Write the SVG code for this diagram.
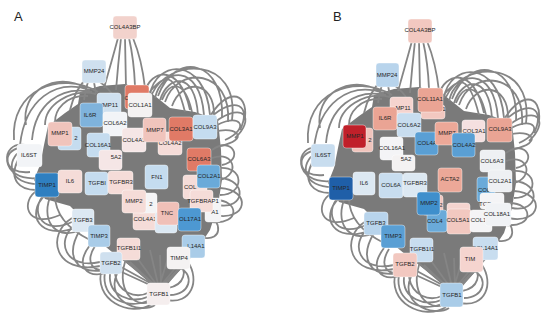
<svg xmlns="http://www.w3.org/2000/svg" xmlns:xlink="http://www.w3.org/1999/xlink" width="550" height="319" viewBox="0 0 550 319">
<style>
.e{fill:none;stroke:#858585;stroke-width:1.8}
.mass{fill:#7a7a7a}
.n rect{stroke:#ffffff;stroke-opacity:0.5;stroke-width:0.8}
text{font-family:"Liberation Sans",Arial,sans-serif;font-size:6px;fill:#262626;text-anchor:middle}
text.s{text-anchor:start}
text.lbl{font-size:13px;fill:#222;text-anchor:start}
</style>
<rect width="550" height="319" fill="#ffffff"/>
<defs>
<g id="edgesA">
<path class="mass" d="M80,92 L100,86 L125,84 L150,92 L170,108 L195,112 L218,120 L221,150 L222,180 L218,205 L210,230 L200,245 L185,265 L168,283 L150,283 L130,266 L112,252 L100,242 L88,224 L70,206 L45,199 L34,180 L40,165 L44,145 L48,126 L65,113 L78,104 Z"/>
<path class="e" d="M118,38 Q112,60 104,88 M121,38 Q118,65 116,90 M125,38 L126,88 M129,38 Q134,60 135,86 M133,38 Q142,60 145,88"/>
<path class="e" d="M88,82 Q86,88 84,100 M94,82 L96,94 M100,82 Q108,88 112,94 M85,80 Q75,90 70,110"/>
<path class="e" d="M150,95 C155,60 205,55 210,115 M155,98 C162,68 200,62 204,115 M160,100 C168,75 195,70 198,115 M158,96 C175,50 225,60 222,118 M165,102 C178,64 232,70 228,122 M172,106 C182,78 215,80 214,116 M145,92 C150,70 180,62 190,110 M148,94 C165,72 175,72 185,112 M152,94 C168,58 240,55 232,120 M162,100 C170,80 185,80 192,112"/>
<path class="e" d="M210,118 C235,95 252,105 240,130 M215,122 C245,100 255,120 235,138 M212,128 C240,110 252,128 225,140 M208,120 C225,88 248,90 245,118 M214,132 C238,125 250,140 220,146"/>
<path class="e" d="M90,90 C55,78 25,100 20,145 M92,92 C60,85 35,105 32,140 M96,94 C70,88 45,105 45,125 M88,96 C65,95 55,110 55,122 M98,92 C60,70 10,90 14,140 M86,88 C55,70 20,92 26,125"/>
<path class="e" d="M20,148 C2,150 2,175 30,172 M25,145 C0,140 -2,182 38,178 M18,160 C8,180 20,190 36,190 M22,150 C5,160 8,185 40,184"/>
<path class="e" d="M38,190 C20,200 25,230 60,215 M42,197 C30,215 45,235 72,222 M50,197 C40,225 60,240 80,230 M55,195 C55,215 70,230 90,240 M45,195 C25,215 40,240 75,228"/>
<path class="e" d="M75,225 C55,240 65,270 100,262 M80,230 C65,255 75,275 105,270 M90,245 C75,265 85,280 110,272 M72,218 C45,235 55,275 100,266 M95,246 C85,262 92,275 112,268"/>
<path class="e" d="M105,272 C100,300 130,310 150,300 M110,274 C108,295 130,305 150,296 M115,274 C118,292 135,300 150,292 M120,268 C100,300 140,315 155,305 M125,262 C115,295 140,310 152,300 M102,268 C92,300 130,318 152,304"/>
<path class="e" d="M170,295 C190,295 195,275 180,268 M168,288 C185,285 188,270 178,262 M166,300 C192,305 200,280 188,262"/>
<path class="e" d="M152,284 L112,262 M154,284 L122,258 M156,284 L135,255 M158,284 L150,250 M160,284 L168,258 M162,284 L178,265 M164,284 L192,255 M150,285 L100,262 M166,285 L200,245 M153,284 L130,262 M161,284 L160,255"/>
<path class="e" d="M212,158 C235,150 240,175 220,180 M218,168 C245,165 245,195 220,195 M220,178 C248,180 245,210 218,205 M215,200 C240,200 240,225 212,222 M220,188 C252,190 248,222 214,215 M212,150 C232,135 245,160 222,165 M205,210 C225,225 220,240 205,238"/>
</g>
</defs>
<g id="connectors">
<use xlink:href="#edgesA" href="#edgesA"/>
<use xlink:href="#edgesA" href="#edgesA" transform="translate(294,3)"/>
</g>
<text class="lbl" x="14" y="21">A</text>
<text class="lbl" x="333" y="21">B</text>
<g id="panelA">
<g id="a-COL4A3BP" class="n"><rect x="113" y="16" width="24" height="23" rx="3" fill="#f2d2cc"/><text x="125" y="29">COL4A3BP</text></g>
<g id="a-MMP24" class="n"><rect x="82" y="60" width="24" height="23" rx="3" fill="#cfe0ef"/><text x="94" y="73">MMP24</text></g>
<g id="a-C" class="n"><rect x="125" y="85" width="24" height="24" rx="3" fill="#e07a66"/><text class="s" x="124.5" y="100">C</text></g>
<g id="a-COL1A1" class="n"><rect x="128" y="93" width="24" height="24" rx="3" fill="#f4f2f2"/><text x="140" y="107">COL1A1</text></g>
<g id="a-MMP11" class="n"><rect x="97" y="93" width="24" height="24" rx="3" fill="#cfe0ef"/><text x="108" y="107">MMP11</text></g>
<g id="a-IL6R" class="n"><rect x="80" y="103" width="23" height="24" rx="3" fill="#7fb3dc"/><text x="90" y="117">IL6R</text></g>
<g id="a-COL6A2" class="n"><rect x="103" y="112" width="24" height="24" rx="3" fill="#f2f4f7"/><text x="115" y="125">COL6A2</text></g>
<g id="a-2" class="n"><rect x="58" y="127" width="23" height="23" rx="3" fill="#c5dcef"/><text x="76" y="140">2</text></g>
<g id="a-MMP1" class="n"><rect x="48" y="122" width="24" height="24" rx="3" fill="#f0c4bc"/><text x="60" y="135">MMP1</text></g>
<g id="a-COL16A1" class="n"><rect x="87" y="133" width="23" height="24" rx="3" fill="#c5dcef"/><text x="98" y="147">COL16A1</text></g>
<g id="a-COL4A3" class="n"><rect x="122" y="128" width="24" height="24" rx="3" fill="#f5e6e6"/><text x="134" y="142">COL4A3</text></g>
<g id="a-COL4A2" class="n"><rect x="158" y="132" width="24" height="23" rx="3" fill="#f5dcd8"/><text x="170" y="145">COL4A2</text></g>
<g id="a-MMP7" class="n"><rect x="143" y="118" width="23" height="24" rx="3" fill="#f0c4bc"/><text x="155" y="132">MMP7</text></g>
<g id="a-COL3A1" class="n"><rect x="169" y="117" width="24" height="24" rx="3" fill="#e07a66"/><text x="181" y="131">COL3A1</text></g>
<g id="a-COL9A3" class="n"><rect x="193" y="115" width="24" height="24" rx="3" fill="#c5dcef"/><text x="205" y="129">COL9A3</text></g>
<g id="a-IL6ST" class="n"><rect x="17" y="144" width="25" height="23" rx="3" fill="#f2f4f7"/><text x="29" y="157">IL6ST</text></g>
<g id="a-5A2" class="n"><rect x="99" y="150" width="23" height="20" rx="3" fill="#f5e6e6"/><text x="116" y="159">5A2</text></g>
<g id="a-COL6A3" class="n"><rect x="187" y="148" width="24" height="23" rx="3" fill="#e07a66"/><text x="199" y="161">COL6A3</text></g>
<g id="a-TIMP1" class="n"><rect x="35" y="173" width="24" height="24" rx="3" fill="#2f7fc0"/><text x="47" y="187">TIMP1</text></g>
<g id="a-IL6" class="n"><rect x="58" y="170" width="24" height="23" rx="3" fill="#f5dcd8"/><text x="70" y="183">IL6</text></g>
<g id="a-TGFBI" class="n"><rect x="85" y="172" width="23" height="23" rx="3" fill="#c5dcef"/><text x="97" y="185">TGFBI</text></g>
<g id="a-TGFBR3" class="n"><rect x="108" y="171" width="25" height="23" rx="3" fill="#f5dcd8"/><text x="121" y="184">TGFBR3</text></g>
<g id="a-FN1" class="n"><rect x="145" y="165" width="23" height="24" rx="3" fill="#c5dcef"/><text x="157" y="179">FN1</text></g>
<g id="a-COL" class="n"><rect x="183" y="175" width="24" height="24" rx="3" fill="#f5dcd8"/><text class="s" x="184" y="189">COL</text></g>
<g id="a-COL2A1" class="n"><rect x="197" y="165" width="23" height="23" rx="3" fill="#6aaad9"/><text x="209" y="178">COL2A1</text></g>
<g id="a-A1" class="n"><rect x="205" y="198" width="16" height="24" rx="3" fill="#f4f4f6"/><text x="215" y="214">A1</text></g>
<g id="a-TGFBRAP1" class="n"><rect x="190" y="190" width="23" height="22" rx="3" fill="#f5dcd8"/><text x="203" y="203">TGFBRAP1</text></g>
<g id="a-COL4A1" class="n"><rect x="133" y="208" width="24" height="22" rx="3" fill="#f5dcd8"/><text x="145" y="221">COL4A1</text></g>
<g id="a-2b" class="n"><rect x="137" y="193" width="20" height="20" rx="3" fill="#f4f4f6"/><text x="151" y="206">2</text></g>
<g id="a-MMP2" class="n"><rect x="122" y="190" width="24" height="23" rx="3" fill="#f5dcd8"/><text x="134" y="203">MMP2</text></g>
<g id="a-back" class="n"><rect x="155" y="212" width="22" height="21" rx="3" fill="#dbe8f3"/></g>
<g id="a-TNC" class="n"><rect x="157" y="202" width="22" height="23" rx="3" fill="#f0c0b8"/><text x="167" y="215">TNC</text></g>
<g id="a-COL17A1" class="n"><rect x="178" y="208" width="23" height="23" rx="3" fill="#4d98d2"/><text x="190" y="221">OL17A1</text></g>
<g id="a-TGFB3" class="n"><rect x="72" y="209" width="22" height="23" rx="3" fill="#dce8f2"/><text x="83" y="222">TGFB3</text></g>
<g id="a-TIMP3" class="n"><rect x="88" y="225" width="22" height="22" rx="3" fill="#a9cce8"/><text x="99" y="238">TIMP3</text></g>
<g id="a-TGFB1I1" class="n"><rect x="117" y="238" width="23" height="22" rx="3" fill="#f5dcd8"/><text x="129" y="250">TGFB1I1</text></g>
<g id="a-COL14A1" class="n"><rect x="182" y="235" width="23" height="23" rx="3" fill="#a9cce8"/><text x="196" y="248">L14A1</text></g>
<g id="a-TIMP4" class="n"><rect x="167" y="247" width="23" height="22" rx="3" fill="#f4f2f2"/><text x="179" y="260">TIMP4</text></g>
<g id="a-TGFB2" class="n"><rect x="100" y="252" width="22" height="22" rx="3" fill="#cfe0ef"/><text x="111" y="265">TGFB2</text></g>
<g id="a-TGFB1" class="n"><rect x="147" y="283" width="23" height="22" rx="3" fill="#f5eeee"/><text x="159" y="296">TGFB1</text></g>
</g>
<g id="panelB">
<g id="b-COL4A3BP" class="n"><rect x="408" y="19" width="24" height="24" rx="3" fill="#f2c8c0"/><text x="420" y="32">COL4A3BP</text></g>
<g id="b-MMP24" class="n"><rect x="376" y="63" width="23" height="24" rx="3" fill="#b8d4ec"/><text x="387" y="77">MMP24</text></g>
<g id="b-1" class="n"><rect x="421" y="105" width="24" height="14" rx="3" fill="#f2c8c0"/><text x="444" y="111">1</text></g>
<g id="b-COL11A1" class="n"><rect x="418" y="88" width="25" height="24" rx="3" fill="#eaa494"/><text x="430" y="101">COL11A1</text></g>
<g id="b-MMP11" class="n"><rect x="390" y="97" width="23" height="23" rx="3" fill="#f5d4cf"/><text x="403" y="110">MP11</text></g>
<g id="b-IL6R" class="n"><rect x="373" y="107" width="24" height="23" rx="3" fill="#eaa494"/><text x="385" y="120">IL6R</text></g>
<g id="b-COL6A2" class="n"><rect x="397" y="113" width="24" height="24" rx="3" fill="#c8ddef"/><text x="409" y="127">COL6A2</text></g>
<g id="b-2" class="n"><rect x="352" y="128" width="21" height="24" rx="3" fill="#f0c4bc"/><text x="370" y="142">2</text></g>
<g id="b-MMP1" class="n"><rect x="343" y="125" width="23" height="23" rx="3" fill="#c0202a"/><text x="355" y="138">MMP1</text></g>
<g id="b-COL16A1" class="n"><rect x="380" y="137" width="23" height="23" rx="3" fill="#f4f4f6"/><text x="392" y="150">COL16A1</text></g>
<g id="b-COL4A" class="n"><rect x="415" y="132" width="23" height="23" rx="3" fill="#5a9fd4"/><text x="427" y="145">COL4A</text></g>
<g id="b-MMP7" class="n"><rect x="435" y="122" width="23" height="23" rx="3" fill="#eca898"/><text x="447" y="135">MMP7</text></g>
<g id="b-COL3A1" class="n"><rect x="462" y="120" width="23" height="22" rx="3" fill="#f5e0e0"/><text x="474" y="133">COL3A1</text></g>
<g id="b-COL4A2" class="n"><rect x="452" y="133" width="23" height="24" rx="3" fill="#5a9fd4"/><text x="464" y="147">COL4A2</text></g>
<g id="b-COL9A3" class="n"><rect x="487" y="118" width="25" height="24" rx="3" fill="#eaa494"/><text x="500" y="131">COL9A3</text></g>
<g id="b-IL6ST" class="n"><rect x="311" y="144" width="24" height="23" rx="3" fill="#c8ddef"/><text x="323" y="157">IL6ST</text></g>
<g id="b-5A2" class="n"><rect x="392" y="155" width="23" height="16" rx="3" fill="#f4f2f2"/><text x="406" y="161">5A2</text></g>
<g id="b-COL6A3" class="n"><rect x="480" y="150" width="25" height="22" rx="3" fill="#eef0f3"/><text x="492" y="163">COL6A3</text></g>
<g id="b-TIMP1" class="n"><rect x="329" y="177" width="24" height="23" rx="3" fill="#1f5fa8"/><text x="341" y="190">TIMP1</text></g>
<g id="b-IL6" class="n"><rect x="353" y="172" width="22" height="23" rx="3" fill="#dce8f2"/><text x="364" y="185">IL6</text></g>
<g id="b-COL6A" class="n"><rect x="379" y="173" width="24" height="25" rx="3" fill="#c8ddef"/><text x="391" y="187">COL6A</text></g>
<g id="b-TGFBR3" class="n"><rect x="403" y="173" width="24" height="24" rx="3" fill="#dce8f2"/><text x="415" y="185">TGFBR3</text></g>
<g id="b-ACTA2" class="n"><rect x="438" y="168" width="24" height="24" rx="3" fill="#eca898"/><text x="450" y="181">ACTA2</text></g>
<g id="b-COL" class="n"><rect x="477" y="177" width="18" height="25" rx="3" fill="#6aaad9"/><text class="s" x="478" y="192">COL</text></g>
<g id="b-COL2A1" class="n"><rect x="488" y="170" width="24" height="22" rx="3" fill="#eef0f3"/><text x="500" y="183">COL2A1</text></g>
<g id="b-TGF" class="n"><rect x="480" y="193" width="24" height="16" rx="3" fill="#f4f4f6"/><text class="s" x="479" y="206">TGF</text></g>
<g id="b-2b" class="n"><rect x="422" y="195" width="21" height="20" rx="3" fill="#f0c4bc"/><text x="441" y="207">2</text></g>
<g id="b-COL4" class="n"><rect x="427" y="210" width="20" height="22" rx="3" fill="#6aaad9"/><text class="s" x="427" y="223">COL4</text></g>
<g id="b-MMP2" class="n"><rect x="417" y="192" width="23" height="23" rx="3" fill="#3f8fcc"/><text x="429" y="205">MMP2</text></g>
<g id="b-back" class="n"><rect x="447" y="203" width="23" height="12" rx="3" fill="#f5d4cf"/></g>
<g id="b-COL5A1" class="n"><rect x="447" y="209" width="24" height="25" rx="3" fill="#f2c8c0"/><text x="458" y="222">COL5A1</text></g>
<g id="b-COL17" class="n"><rect x="470" y="210" width="22" height="22" rx="3" fill="#f4f4f6"/><text x="481" y="222">COL17,</text></g>
<g id="b-COL18A1" class="n"><rect x="485" y="203" width="26" height="23" rx="3" fill="#f0f2f5"/><text x="497" y="216">COL18A1</text></g>
<g id="b-TGFB3" class="n"><rect x="364" y="212" width="24" height="23" rx="3" fill="#b8d4ec"/><text x="376" y="225">TGFB3</text></g>
<g id="b-TIMP3" class="n"><rect x="381" y="225" width="24" height="23" rx="3" fill="#5a9fd4"/><text x="393" y="238">TIMP3</text></g>
<g id="b-TGFB1I1" class="n"><rect x="410" y="238" width="23" height="24" rx="3" fill="#c8ddef"/><text x="422" y="251">TGFB1I1</text></g>
<g id="b-COL14A1" class="n"><rect x="473" y="237" width="25" height="23" rx="3" fill="#c8ddef"/><text x="485" y="250">COL14A1</text></g>
<g id="b-TIM" class="n"><rect x="460" y="247" width="23" height="25" rx="3" fill="#f5d4cf"/><text x="470" y="261">TIM</text></g>
<g id="b-TGFB2" class="n"><rect x="393" y="253" width="24" height="24" rx="3" fill="#f2c8c0"/><text x="405" y="266">TGFB2</text></g>
<g id="b-TGFB1" class="n"><rect x="440" y="283" width="23" height="24" rx="3" fill="#a9cce8"/><text x="452" y="297">TGFB1</text></g>
</g>
</svg>
